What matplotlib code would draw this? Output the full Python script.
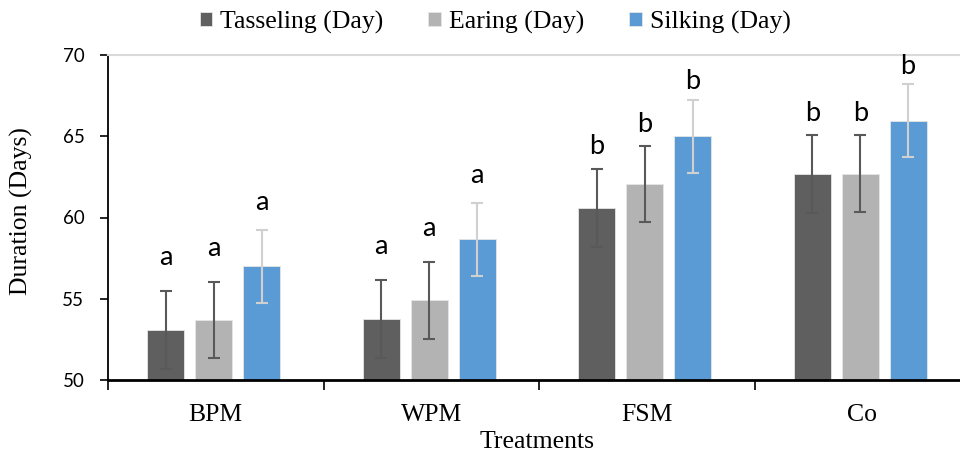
import numpy as np
import matplotlib.pyplot as plt

# values
treatments = ['BPM', 'WPM', 'FSM', 'Co']
series = ['Tasseling (Day)', 'Earing (Day)', 'Silking (Day)']

tasseling = [53.1, 53.75, 60.6, 62.65]
earing = [53.7, 54.9, 62.05, 62.7]
silking = [57.0, 58.65, 65.0, 65.95]

tasseling_err = [2.4, 2.4, 2.4, 2.4]
earing_err = [2.35, 2.35, 2.35, 2.35]
silking_err = [2.25, 2.25, 2.25, 2.25]

# significance letters per treatment
letters = ['a', 'a', 'b', 'b']

colors = ['#5f5f5f', '#b3b3b3', '#5b9bd5']
err_colors = ['#595959', '#595959', '#d0d0d0']

serif = 'Liberation Serif'
sans = 'Lato'

fig = plt.figure(figsize=(9.6, 4.53), dpi=100)
# axes runs a bit past the right edge, as in the (cropped) reference
ax = fig.add_axes([108 / 960, 73 / 453, 862 / 960, 325 / 453])

x = np.arange(len(treatments))
offsets = [-0.232, -0.009, 0.213]
width = 0.172

values = [tasseling, earing, silking]
errors = [tasseling_err, earing_err, silking_err]
# gap between error bar top and letter baseline (letters have different heights)
gaps = {'a': [1.58, 1.6, 1.2], 'b': [0.9, 0.88, 0.66]}

handles = []
for k in range(3):
    b = ax.bar(x + offsets[k], np.array(values[k]) - 50, width, bottom=50,
               color=colors[k], edgecolor='#e6e6e6', linewidth=0.6,
               label=series[k], zorder=2)
    handles.append(b)
    ax.errorbar(x + offsets[k], values[k], yerr=errors[k], fmt='none',
                ecolor=err_colors[k], elinewidth=1.5, capsize=4.3,
                capthick=1.5, zorder=3)
    for i in range(len(treatments)):
        top = values[k][i] + errors[k][i]
        ax.text(x[i] + offsets[k], top + gaps[letters[i]][k], letters[i],
                ha='center', va='baseline', fontsize=19.5, family=sans)

ax.set_xlim(-0.5, 3.5)
ax.set_ylim(50, 70)
ax.set_yticks([50, 55, 60, 65, 70])
ax.tick_params(axis='y', direction='out', length=6, width=1.2, pad=11,
               labelsize=13.5)
for lab in ax.get_yticklabels():
    lab.set_family(sans)

ax.set_xticks(x)
ax.set_xticklabels(treatments, family=serif, fontsize=18.5)
ax.set_xticks(np.arange(-0.5, 4.0, 1.0), minor=True)
ax.tick_params(axis='x', which='major', length=0, pad=17)
ax.tick_params(axis='x', which='minor', direction='out', length=7, width=1.2)

ax.spines['left'].set_linewidth(1.3)
ax.spines['bottom'].set_linewidth(2)
ax.spines['right'].set_visible(False)
ax.spines['top'].set_color('#d9d9d9')
ax.spines['top'].set_linewidth(1.5)

fig.text(21 / 960, 1 - 211 / 453, 'Duration (Days)', rotation=90,
         ha='center', va='center', family=serif, fontsize=18.5)
fig.text(537 / 960, 1 - 442 / 453, 'Treatments', ha='center', va='center',
         family=serif, fontsize=18.5)

fig.legend(handles=handles, loc='center', bbox_to_anchor=(495 / 960, 1 - 22 / 453),
           ncol=3, frameon=False, prop={'family': serif, 'size': 18.5},
           handlelength=0.5, handleheight=0.5, handletextpad=0.3,
           columnspacing=1.75, borderaxespad=0, borderpad=0)

fig.savefig('out.png', dpi=100)
